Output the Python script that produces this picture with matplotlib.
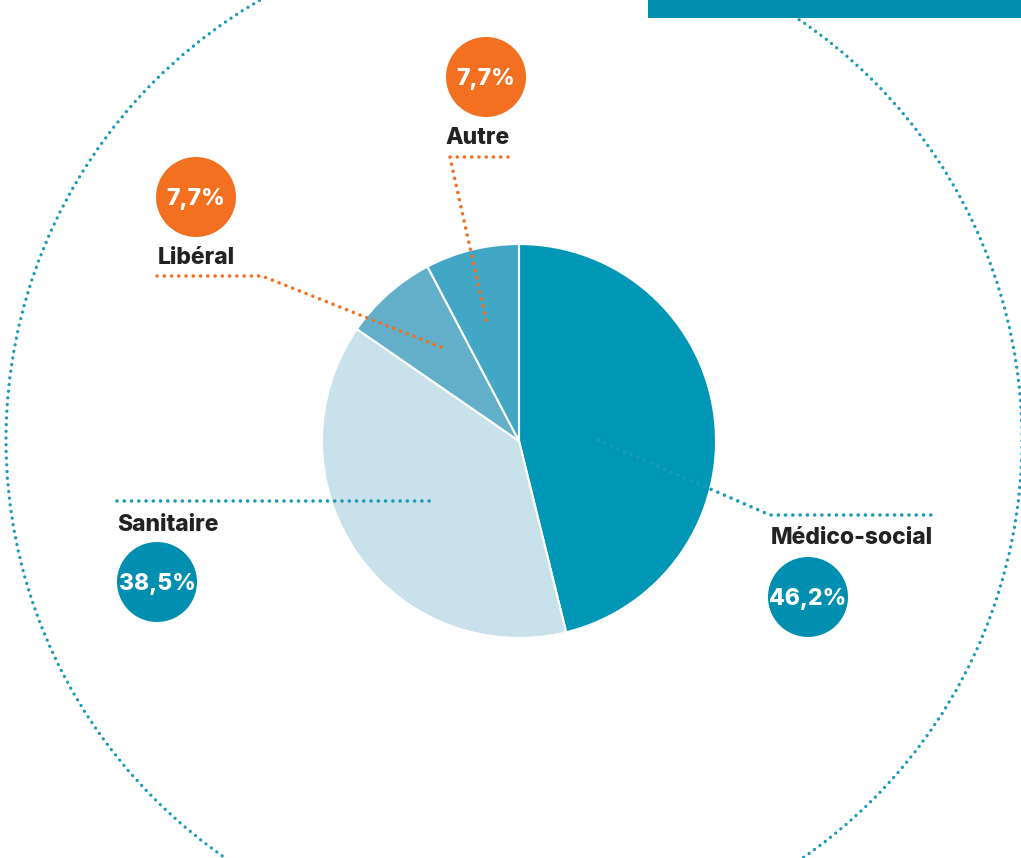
import matplotlib.pyplot as plt
from matplotlib.patches import Circle, Rectangle

plt.rcParams['font.family'] = ['Inter', 'DejaVu Sans']

# data
labels = ['Médico-social', 'Sanitaire', 'Libéral', 'Autre']
values = [46.2, 38.5, 7.7, 7.7]
pct_text = ['46,2%', '38,5%', '7,7%', '7,7%']

wedge_colors = ['#0096b6', '#c9e1eb', '#63afca', '#42a7c5']
badge_colors = ['#008fb0', '#008fb0', '#f37021', '#f37021']
line_colors = ['#1a9bb8', '#1a9bb8', '#f37021', '#f37021']

W, H = 1021, 858


def fy(y):
    # pixel y (top-down) -> axes y
    return H - y


# layout in pixels (x, y from top)
label_pos = [(852, 538), (168, 525), (196, 258), (478, 138)]
badge_pos = [(808, 597), (157, 582), (196, 197), (486, 77)]
leaders = [
    [(598, 440), (770, 515), (935, 515)],
    [(117, 501), (435, 501)],
    [(157, 276), (262, 276), (443, 348)],
    [(508, 157), (450, 157), (451, 162), (487, 324)],
]

fig = plt.figure(figsize=(W / 100, H / 100), dpi=100)
ax = fig.add_axes([0, 0, 1, 1])

dots = (0, (0.01, 2.0))

# big dotted background circle
ax.add_patch(Circle((514, fy(440)), 508, fill=False, edgecolor='#1a9bb8',
                    linewidth=2.4, linestyle=dots, capstyle='round', zorder=1))

# teal band top right
ax.add_patch(Rectangle((648, fy(18)), W - 648, 18, facecolor='#008fb0',
                       edgecolor='none', zorder=3))

ax.pie(values, colors=wedge_colors, startangle=90, counterclock=False,
       center=(519, fy(441)), radius=197,
       wedgeprops=dict(edgecolor='white', linewidth=1.5), frame=True)
ax.set_xlim(0, W)
ax.set_ylim(0, H)
ax.set_aspect('equal')
ax.axis('off')

for pts, c in zip(leaders, line_colors):
    xs = [p[0] for p in pts]
    ys = [fy(p[1]) for p in pts]
    ax.plot(xs, ys, color=c, linewidth=2.6, linestyle=dots,
            dash_capstyle='round', zorder=4)

for lab, (x, y) in zip(labels, label_pos):
    ax.text(x, fy(y), lab, ha='center', va='center', fontsize=16.5,
            fontweight=800, color='#222222', zorder=5)

for txt, (x, y), c in zip(pct_text, badge_pos, badge_colors):
    ax.add_patch(Circle((x, fy(y)), 40, facecolor=c, edgecolor='none', zorder=5))
    ax.text(x, fy(y + 2), txt, ha='center', va='center', fontsize=16.5,
            fontweight=800, color='white', zorder=6)

fig.savefig('out.png', dpi=100)
